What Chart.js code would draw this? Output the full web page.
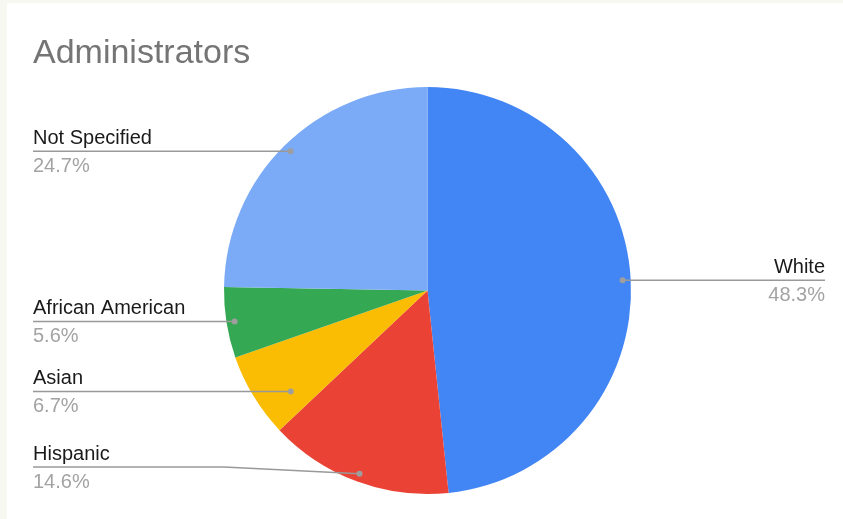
<!DOCTYPE html>
<html>
<head>
<meta charset="utf-8">
<script src="https://cdn.jsdelivr.net/npm/chart.js@4.4.1/dist/chart.umd.min.js"></script>
<style>
    html, body { margin: 0; padding: 0; background: #f8f8f2; width: 843px; height: 519px; overflow: hidden; }
    #adminChart { position: absolute; left: 7px; top: 3px; background: #ffffff; }
</style>
</head>
<body>
<canvas id="adminChart" width="836" height="516"></canvas>
<script>
const categories = ['White', 'Hispanic', 'Asian', 'African American', 'Not Specified'];
const shares = [48.3, 14.6, 6.7, 5.6, 24.7];
const sliceColors = ['#4285f4', '#ea4335', '#fbbc04', '#34a853', '#7baaf7'];
// how deep into the slice the leader dot sits (fraction of radius)
const anchorDepth = [0.96, 0.96, 0.835, 0.96, 0.96];

const FONT = '"Liberation Sans", Arial, sans-serif';

const labelPlugin = {
    id: 'sideLabels',
    afterDatasetsDraw(chart) {
        const ctx = chart.ctx;
        const meta = chart.getDatasetMeta(0);
        const total = shares.reduce((a, b) => a + b, 0);
        const leftX = 26;
        const rightX = chart.width - 18;
        const maxLineY = chart.height - 52;
        const minGap = 70;

        ctx.save();
        // title
        ctx.font = '34px ' + FONT;
        ctx.fillStyle = '#757575';
        ctx.textAlign = 'left';
        ctx.textBaseline = 'alphabetic';
        ctx.fillText('Administrators', 26, 60);

        // work out anchor points first
        const items = meta.data.map((arc, i) => {
            const p = arc.getProps(['x', 'y', 'startAngle', 'endAngle', 'outerRadius'], true);
            const mid = (p.startAngle + p.endAngle) / 2;
            const r = p.outerRadius * anchorDepth[i];
            return {
                i: i, p: p, r: r,
                right: Math.cos(mid) >= 0,
                dx: p.x + Math.cos(mid) * r,
                dy: p.y + Math.sin(mid) * r
            };
        });

        // push labels apart on each side
        [true, false].forEach(side => {
            const list = items.filter(it => it.right === side).sort((a, b) => a.dy - b.dy);
            let prev = -Infinity;
            list.forEach(it => {
                let ly = Math.max(it.dy, prev + minGap);
                if (ly > it.dy) {
                    // slide the dot along its ring so the line stays level
                    const off = ly - it.p.y;
                    const h = Math.sqrt(Math.max(it.r * it.r - off * off, 0));
                    it.dx = it.p.x + (side ? h : -h);
                    it.dy = ly;
                }
                it.ly = Math.min(ly, maxLineY);
                prev = ly;
            });
        });

        items.forEach(it => {
            const p = it.p;
            const elbowX = it.right ? p.x + p.outerRadius : p.x - p.outerRadius;
            const endX = it.right ? rightX : leftX;

            ctx.strokeStyle = '#999999';
            ctx.lineWidth = 1.5;
            ctx.beginPath();
            ctx.moveTo(endX, it.ly);
            ctx.lineTo(elbowX, it.ly);
            ctx.lineTo(it.dx, it.dy);
            ctx.stroke();

            ctx.fillStyle = '#9e9e9e';
            ctx.beginPath();
            ctx.arc(it.dx, it.dy, 3, 0, Math.PI * 2);
            ctx.fill();

            ctx.textAlign = it.right ? 'right' : 'left';
            ctx.font = '20px ' + FONT;
            ctx.fillStyle = '#1a1a1a';
            ctx.fillText(categories[it.i], endX, it.ly - 7);
            ctx.fillStyle = '#a3a3a3';
            ctx.fillText((shares[it.i] / total * 100).toFixed(1) + '%', endX, it.ly + 21);
        });
        ctx.restore();
    }
};

document.addEventListener("DOMContentLoaded", function(){
    const adx = document.getElementById('adminChart').getContext('2d');
    new Chart(adx, {
        type: 'pie',
        data: {
            labels: categories,
            datasets: [
                {
                    label: 'Administrators',
                    data: shares,
                    backgroundColor: sliceColors,
                    borderWidth: 0,
                    hoverOffset: 0,
                    offset: 0
                }
            ]
        },
        options: {
            responsive: false,
            animation: false,
            events: [],
            layout: {
                padding: { top: 84, bottom: 25, left: 217, right: 212 }
            },
            plugins: {
                legend: { display: false },
                tooltip: { enabled: false },
                title: { display: false }
            }
        },
        plugins: [labelPlugin]
    });
});
</script>
</body>
</html>
